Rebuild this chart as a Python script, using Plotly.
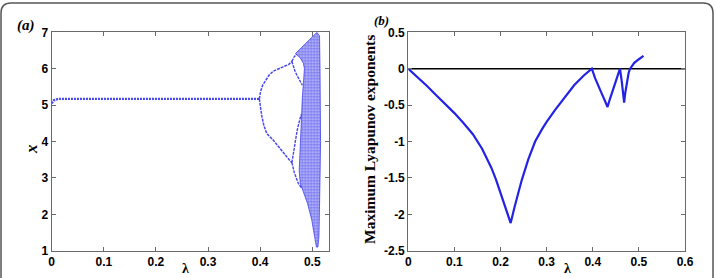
import plotly.graph_objects as go

# ---------------- data ----------------
# (a) bifurcation diagram branches (lambda, x)
p1_lam = [0.0, 0.004, 0.012, 0.05, 0.1, 0.2, 0.3, 0.3985]
p1_x = [5.05, 5.13, 5.17, 5.17, 5.17, 5.17, 5.17, 5.17]

p2u_lam = [0.3985, 0.401, 0.405, 0.409, 0.417, 0.425, 0.435, 0.445, 0.455, 0.461]
p2u_x = [5.17, 5.38, 5.55, 5.65, 5.82, 5.93, 6.0, 6.05, 6.12, 6.2]

p2l_lam = [0.3985, 0.400, 0.403, 0.407, 0.4127, 0.425, 0.4446, 0.4575, 0.461]
p2l_x = [5.17, 4.95, 4.72, 4.45, 4.22, 4.04, 3.68, 3.47, 3.42]

p4uu_lam = [0.461, 0.465, 0.470, 0.475, 0.480]
p4uu_x = [6.2, 6.32, 6.40, 6.46, 6.52]
p4ul_lam = [0.461, 0.464, 0.467, 0.472, 0.477, 0.481]
p4ul_x = [6.2, 6.05, 5.93, 5.78, 5.65, 5.55]
p4lu_lam = [0.461, 0.464, 0.467, 0.471, 0.476, 0.479]
p4lu_x = [3.42, 3.7, 4.0, 4.3, 4.6, 4.75]
p4ll_lam = [0.461, 0.4655, 0.4733, 0.480]
p4ll_x = [3.42, 3.15, 2.85, 2.71]

# chaotic band envelope (lambda, x), traced around its outline
band_lam = [0.509, 0.514, 0.515, 0.516, 0.516, 0.515, 0.514, 0.513, 0.511, 0.508,
            0.505, 0.499, 0.491, 0.483, 0.477, 0.475, 0.476, 0.477, 0.479, 0.481,
            0.483, 0.485, 0.483, 0.477, 0.470, 0.468, 0.478, 0.489, 0.499, 0.509]
band_x = [7.0, 6.9, 6.0, 5.0, 4.0, 3.0, 2.0, 1.4, 1.1, 1.1,
          1.35, 1.85, 2.3, 2.65, 2.85, 3.2, 3.6, 4.0, 4.6, 5.2,
          5.6, 6.0, 6.15, 6.3, 6.38, 6.42, 6.56, 6.72, 6.87, 7.0]

# (b) maximum Lyapunov exponent
ly_lam = [0.0, 0.02, 0.04, 0.06, 0.08, 0.10, 0.12, 0.14, 0.16, 0.18, 0.19, 0.20, 0.212, 0.222,
          0.23, 0.235, 0.246, 0.26, 0.275, 0.29, 0.30, 0.318, 0.34, 0.36, 0.38, 0.398,
          0.405, 0.41, 0.42, 0.427, 0.432, 0.437, 0.444, 0.452, 0.459,
          0.463, 0.466, 0.468, 0.4705, 0.474, 0.478, 0.481, 0.486, 0.49, 0.50, 0.51]
ly_val = [0.0, -0.115, -0.235, -0.36, -0.48, -0.61, -0.75, -0.90, -1.10, -1.36, -1.52, -1.70, -1.92, -2.12,
          -1.91, -1.79, -1.53, -1.25, -1.0, -0.83, -0.73, -0.57, -0.39, -0.225, -0.097, 0.0,
          -0.13, -0.21, -0.35, -0.45, -0.526, -0.42, -0.29, -0.14, 0.0,
          -0.18, -0.33, -0.467, -0.33, -0.17, -0.05, 0.0, 0.05, 0.08, 0.13, 0.175]

zero_lam = [0.0, 0.6]
zero_val = [0.0, 0.0]

x_ticks_a = [0, 0.1, 0.2, 0.3, 0.4, 0.5]
x_text_a = ["0", "0.1", "0.2", "0.3", "0.4", "0.5"]
y_ticks_a = [1, 2, 3, 4, 5, 6, 7]
y_text_a = ["1", "2", "3", "4", "5", "6", "7"]
x_ticks_b = [0, 0.1, 0.2, 0.3, 0.4, 0.5, 0.6]
x_text_b = ["0", "0.1", "0.2", "0.3", "0.4", "0.5", "0.6"]
y_ticks_b = [0.5, 0, -0.5, -1, -1.5, -2, -2.5]
y_text_b = ["0.5", "0", "-0.5", "-1", "-1.5", "-2", "-2.5"]

# ---------------- figure ----------------
W, H = 717, 278
BLUE = "rgb(35,35,230)"
AX = "#6a6a6a"

fig = go.Figure()

for lx, ly, wd, dash in [(p1_lam, p1_x, 2.4, "2px,1px"), (p2u_lam, p2u_x, 1.5, "3px,1px"),
                         (p2l_lam, p2l_x, 1.5, "3px,1px"),
                         (p4uu_lam, p4uu_x, 1.4, "3px,1px"), (p4ul_lam, p4ul_x, 1.4, "3px,1px"),
                         (p4lu_lam, p4lu_x, 1.4, "3px,1px"), (p4ll_lam, p4ll_x, 1.4, "3px,1px")]:
    fig.add_trace(go.Scatter(x=lx, y=ly, mode="lines",
                             line=dict(color="rgba(40,40,230,0.85)", width=wd, dash=dash),
                             xaxis="x", yaxis="y", showlegend=False, hoverinfo="skip"))

fig.add_trace(go.Scatter(
    x=band_lam, y=band_x, mode="lines", fill="toself",
    line=dict(color="rgba(35,35,230,0.8)", width=0.8),
    fillcolor="rgba(120,120,240,0.6)",
    fillpattern=dict(shape=".", fgcolor=BLUE, bgcolor="rgba(200,200,250,1)",
                     size=3, solidity=0.65),
    xaxis="x", yaxis="y", showlegend=False, hoverinfo="skip"))

fig.add_trace(go.Scatter(x=zero_lam, y=zero_val, mode="lines",
                         line=dict(color="black", width=1.6),
                         xaxis="x2", yaxis="y2", showlegend=False))
fig.add_trace(go.Scatter(x=ly_lam, y=ly_val, mode="lines",
                         line=dict(color=BLUE, width=2.2),
                         xaxis="x2", yaxis="y2", showlegend=False))

tickfont = dict(family="Liberation Sans, Arial, sans-serif", size=12, color="black",
                weight="bold")
axis_common = dict(showline=True, linecolor=AX, linewidth=1.2, mirror="ticks",
                   ticks="inside", ticklen=4, tickcolor=AX, tickwidth=1,
                   showgrid=False, zeroline=False, tickfont=tickfont, automargin=False)

ydom = [1 - 250.7 / H, 1 - 32.3 / H]
fig.update_layout(
    width=W, height=H,
    margin=dict(l=0, r=0, t=0, b=0, pad=0, autoexpand=False),
    showlegend=False,
    paper_bgcolor="white", plot_bgcolor="white",
    xaxis=dict(domain=[51.7 / W, 329.0 / W], range=[0, 0.5322],
               tickvals=x_ticks_a, ticktext=x_text_a, anchor="y", **axis_common),
    yaxis=dict(domain=ydom, range=[1, 7], tickvals=y_ticks_a, ticktext=y_text_a,
               anchor="x", **axis_common),
    xaxis2=dict(domain=[408.3 / W, 685.0 / W], range=[0, 0.6],
                tickvals=x_ticks_b, ticktext=x_text_b, anchor="y2", **axis_common),
    yaxis2=dict(domain=ydom, range=[-2.5, 0.5], tickvals=y_ticks_b, ticktext=y_text_b,
                anchor="x2", **axis_common),
)

serif = "Liberation Serif, Times New Roman, serif"
annots = [
    dict(x=26 / W, y=1 - 25 / H, text="<b><i>(a)</i></b>", size=15, angle=0),
    dict(x=381 / W, y=1 - 21 / H, text="<b><i>(b)</i></b>", size=13, angle=0),
    dict(x=31 / W, y=1 - 149 / H, text="<b><i>x</i></b>", size=17, angle=-90),
    dict(x=185 / W, y=1 - 268 / H, text="<b>λ</b>", size=14, angle=0),
    dict(x=567 / W, y=1 - 268 / H, text="<b>λ</b>", size=14, angle=0),
    dict(x=369 / W, y=1 - 139 / H, text="<b>Maximum Lyapunov exponents</b>", size=15.5, angle=-90),
]
for a in annots:
    fig.add_annotation(x=a["x"], y=a["y"], xref="paper", yref="paper",
                       text=a["text"], showarrow=False, textangle=a["angle"],
                       xanchor="center", yanchor="middle",
                       font=dict(family=serif, size=a["size"], color="black"))

# rounded outer frame (paper coordinates)
def px(x):
    return x / W


def py(y):
    return 1 - y / H


frame_path = (f"M {px(1)},{py(280)} L {px(1)},{py(13)} "
              f"Q {px(1)},{py(3)} {px(11)},{py(3)} "
              f"L {px(703)},{py(3)} Q {px(713)},{py(3)} {px(713)},{py(13)} "
              f"L {px(713)},{py(280)}")
fig.add_shape(type="path", path=frame_path, xref="paper", yref="paper",
              line=dict(color="#555555", width=1.5))

fig.write_html("out.html")
